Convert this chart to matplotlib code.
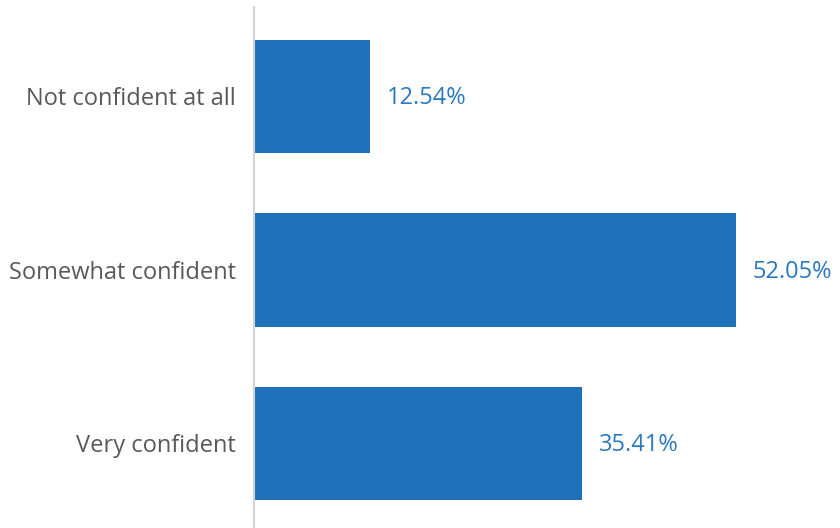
import matplotlib
matplotlib.use("Agg")
import matplotlib.pyplot as plt

categories = ["Not confident at all", "Somewhat confident", "Very confident"]
values = [12.54, 52.05, 35.41]
value_labels = ["12.54%", "52.05%", "35.41%"]

plt.rcParams['font.family'] = ['Open Sans', 'DejaVu Sans']

fig = plt.figure(figsize=(8.4, 5.28), dpi=100)
ax = fig.add_axes([254/840, 0, (840-254)/840, 1 - 7/528])

bar_color = "#1f72b9"
ypos = list(range(len(categories)))
ax.barh(ypos, values, height=0.653, color=bar_color, left=0)
ax.set_ylim(2.488, -0.516)
ax.set_xlim(0, 586/9.26)

for y, v, lab in zip(ypos, values, value_labels):
    ax.text(v + 1.8, y + 0.01, lab, va="center", ha="left", fontsize=17, color="#2a78bf")

ax.set_yticks(ypos)
ax.set_yticklabels(categories, fontsize=17, color="#595959")
ax.tick_params(axis="y", length=0, pad=13)
ax.set_xticks([])
for s in ["top", "right", "bottom"]:
    ax.spines[s].set_visible(False)
ax.spines["left"].set_color("#d3d3d3")
ax.spines["left"].set_linewidth(1.5)

fig.savefig("out.png", dpi=100)
